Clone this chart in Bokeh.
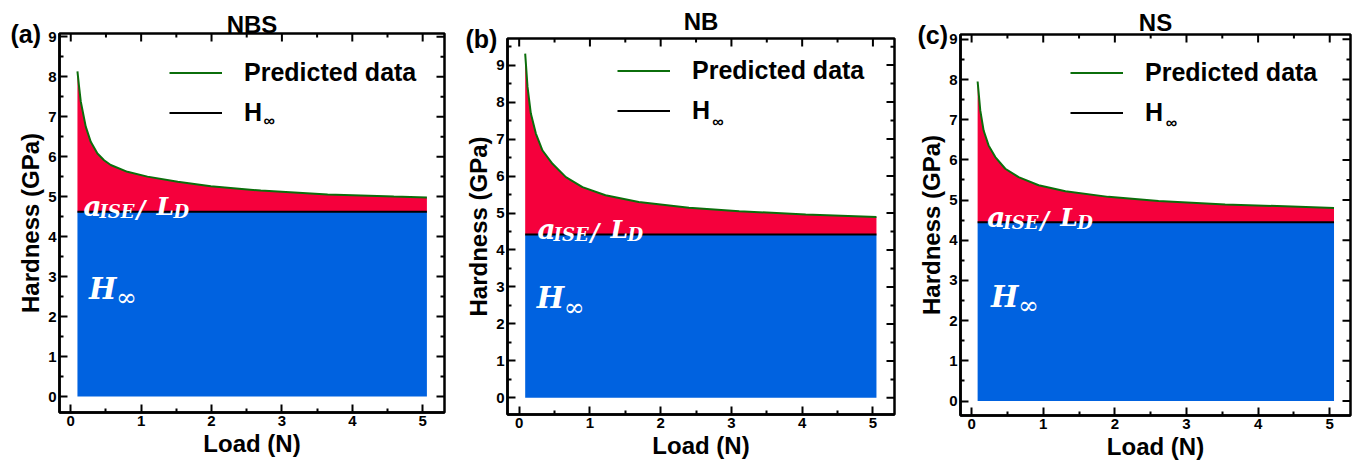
from bokeh.plotting import figure
from bokeh.models import Range1d, FixedTicker, Label, Legend, LegendItem, Title
from bokeh.layouts import row
from bokeh.embed import file_html
from bokeh.resources import INLINE

# ---------------- data ----------------
titles = ["NBS", "NB", "NS"]
tags = ["(a)", "(b)", "(c)"]

load_a = [0.095, 0.118, 0.142, 0.213, 0.284, 0.379, 0.473, 0.568, 0.805, 1.09, 1.52, 1.99, 2.70, 3.65, 4.59, 5.06]
hard_a = [8.13, 7.75, 7.38, 6.75, 6.37, 6.08, 5.91, 5.79, 5.62, 5.50, 5.37, 5.26, 5.15, 5.05, 5.00, 4.98]
hinf_a = 4.62

load_b = [0.085, 0.118, 0.165, 0.236, 0.330, 0.471, 0.660, 0.895, 1.22, 1.69, 2.40, 3.11, 4.05, 5.05]
hard_b = [9.31, 8.41, 7.69, 7.15, 6.69, 6.33, 5.97, 5.70, 5.48, 5.30, 5.14, 5.05, 4.96, 4.89]
hinf_b = 4.42

load_c = [0.084, 0.121, 0.168, 0.237, 0.331, 0.470, 0.656, 0.936, 1.31, 1.91, 2.61, 3.54, 4.47, 5.06]
hard_c = [7.95, 7.23, 6.73, 6.36, 6.07, 5.78, 5.57, 5.37, 5.22, 5.08, 4.98, 4.89, 4.84, 4.80]
hinf_c = 4.45

x_ticks = [0, 1, 2, 3, 4, 5]
x_minor = [0.5, 1.5, 2.5, 3.5, 4.5]
y_ticks = [0, 1, 2, 3, 4, 5, 6, 7, 8, 9]
y_minor = [0.5, 1.5, 2.5, 3.5, 4.5, 5.5, 6.5, 7.5, 8.5, 9.5]

legend_labels = ["Predicted data", "H"]
legend_sub = "\u221e"

# ---------------- layout / style settings ----------------
RED = "#F5003C"
BLUE = "#0062E0"
GREEN = "#0B6E0B"
SANS = "Liberation Sans"
SERIF = "DejaVu Serif"
H = 464

layout_cfg = [
    dict(w=450, bl=59, br=6, bt=33, bb=52, xr=(-0.16, 5.31), yr=(-0.40, 9.08),
         tag_off=-49, title_so=-8, leg_y=281, ax=0.18, hpos=(0.26, 2.70), sub=(2.74, 6.90)),
    dict(w=450, bl=57, br=6, bt=38, bb=50, xr=(-0.165, 5.305), yr=(-0.45, 9.72),
         tag_off=-42, title_so=7, leg_y=285, ax=0.26, hpos=(0.25, 2.69), sub=(2.73, 7.47)),
    dict(w=456, bl=60, br=6, bt=34, bb=49, xr=(-0.155, 5.29), yr=(-0.36, 9.12),
         tag_off=-43, title_so=-3, leg_y=284, ax=0.22, hpos=(0.27, 2.60), sub=(2.71, 6.92)),
]


def style_axis(ax, ticks, minor):
    ax.ticker = FixedTicker(ticks=ticks, minor_ticks=minor)
    ax.axis_line_width = 2.5
    ax.axis_line_color = "black"
    ax.major_tick_in = 8
    ax.major_tick_out = 0
    ax.minor_tick_in = 4
    ax.minor_tick_out = 0
    ax.major_tick_line_width = 2
    ax.minor_tick_line_width = 2
    ax.major_tick_line_color = "black"
    ax.minor_tick_line_color = "black"
    ax.major_label_text_font = SANS
    ax.major_label_text_font_style = "bold"
    ax.major_label_text_font_size = "15px"
    ax.major_label_text_color = "black"
    ax.major_label_standoff = 3
    ax.axis_label_text_font = SANS
    ax.axis_label_text_font_style = "bold"
    ax.axis_label_text_font_size = "24px"
    ax.axis_label_text_color = "black"
    ax.axis_label_standoff = 1


def make_panel(i, load, hard, hinf):
    c = layout_cfg[i]
    x0, x1 = c["xr"]
    y0, y1 = c["yr"]
    p = figure(width=c["w"], height=H,
               x_range=Range1d(x0, x1), y_range=Range1d(y0, y1),
               output_backend="svg", toolbar_location=None, frame_align=False,
               min_border_left=c["bl"], min_border_right=c["br"],
               min_border_top=c["bt"], min_border_bottom=c["bb"])
    p.title.text = titles[i]
    p.title.align = "center"
    p.title.text_font = SANS
    p.title.text_font_style = "bold"
    p.title.text_font_size = "24px"
    p.title.text_color = "black"
    p.title.standoff = c["title_so"]
    p.title.offset = 0
    p.xgrid.visible = False
    p.ygrid.visible = False
    p.outline_line_color = "black"
    p.outline_line_width = 2.5
    p.background_fill_color = "white"

    style_axis(p.xaxis[0], x_ticks, x_minor)
    style_axis(p.yaxis[0], y_ticks, y_minor)
    p.xaxis.axis_label = "Load (N)"
    p.yaxis.axis_label = "Hardness (GPa)"

    # panel tag, drawn from a (near) zero-height title row next to the frame
    p.add_layout(Title(text=tags[i], align="left", offset=c["tag_off"], vertical_align="middle",
                       standoff=-34, text_font=SANS, text_font_style="bold",
                       text_font_size="25px", text_color="black"), "above")

    # mirrored inward ticks on the top and right edges
    fw = c["w"] - c["bl"] - c["br"]
    fh = H - c["bt"] - c["bb"]
    ux = (x1 - x0) / fw
    uy = (y1 - y0) / fh
    for ticks, ln in ((x_ticks, 8), (x_minor, 4)):
        p.segment(x0=ticks, y0=[y1] * len(ticks), x1=ticks, y1=[y1 - ln * uy] * len(ticks),
                  line_color="black", line_width=2)
    for ticks, ln in ((y_ticks, 8), (y_minor, 4)):
        p.segment(x0=[x1] * len(ticks), y0=ticks, x1=[x1 - ln * ux] * len(ticks), y1=ticks,
                  line_color="black", line_width=2)

    # filled areas
    p.varea(x=[load[0], load[-1]], y1=[0, 0], y2=[hinf, hinf], fill_color=BLUE)
    p.varea(x=load, y1=[hinf] * len(load), y2=hard, fill_color=RED)
    hline = p.line(x=[load[0], load[-1]], y=[hinf, hinf], line_color="black", line_width=2)
    curve = p.line(x=load, y=hard, line_color=GREEN, line_width=2)

    legend = Legend(items=[LegendItem(label=legend_labels[0], renderers=[curve]),
                           LegendItem(label=legend_labels[1], renderers=[hline])],
                    location=(110, c["leg_y"]), border_line_alpha=0, background_fill_alpha=0,
                    glyph_width=53, glyph_height=37, label_height=37, label_standoff=22,
                    padding=0, margin=0, spacing=3,
                    label_text_font=SANS, label_text_font_style="bold",
                    label_text_font_size="25px", label_text_color="black")
    p.add_layout(legend)
    sx, sy = c["sub"]
    p.add_layout(Label(x=sx, y=sy, text=legend_sub, text_font=SANS, text_font_style="bold",
                       text_font_size="16px", text_color="black", text_baseline="alphabetic"))

    # a_ISE / L_D annotation
    pieces = [("a", 28, 0, 5), ("ISE", 18, 16, 0), ("/", 24, 53, 2), ("L", 25, 73, 5), ("D", 18, 90, 0)]
    for txt, fs, dx, dy in pieces:
        p.add_layout(Label(x=c["ax"], y=hinf, x_offset=dx, y_offset=dy, text=txt,
                           text_font=SERIF, text_font_style="bold italic",
                           text_font_size=f"{fs}px", text_color="white",
                           text_baseline="alphabetic"))
    # H_inf annotation
    hx, hy = c["hpos"]
    p.add_layout(Label(x=hx, y=hy, text="H", text_font=SERIF, text_font_style="bold italic",
                       text_font_size="29px", text_color="white", text_baseline="alphabetic"))
    p.add_layout(Label(x=hx, y=hy, x_offset=27, y_offset=-9, text="\u221e", text_font=SERIF,
                       text_font_size="25px", text_color="white", text_baseline="alphabetic"))
    return p


pa = make_panel(0, load_a, hard_a, hinf_a)
pb = make_panel(1, load_b, hard_b, hinf_b)
pc = make_panel(2, load_c, hard_c, hinf_c)

lay = row(pa, pb, pc)
open("out.html", "w").write(file_html(lay, INLINE))
